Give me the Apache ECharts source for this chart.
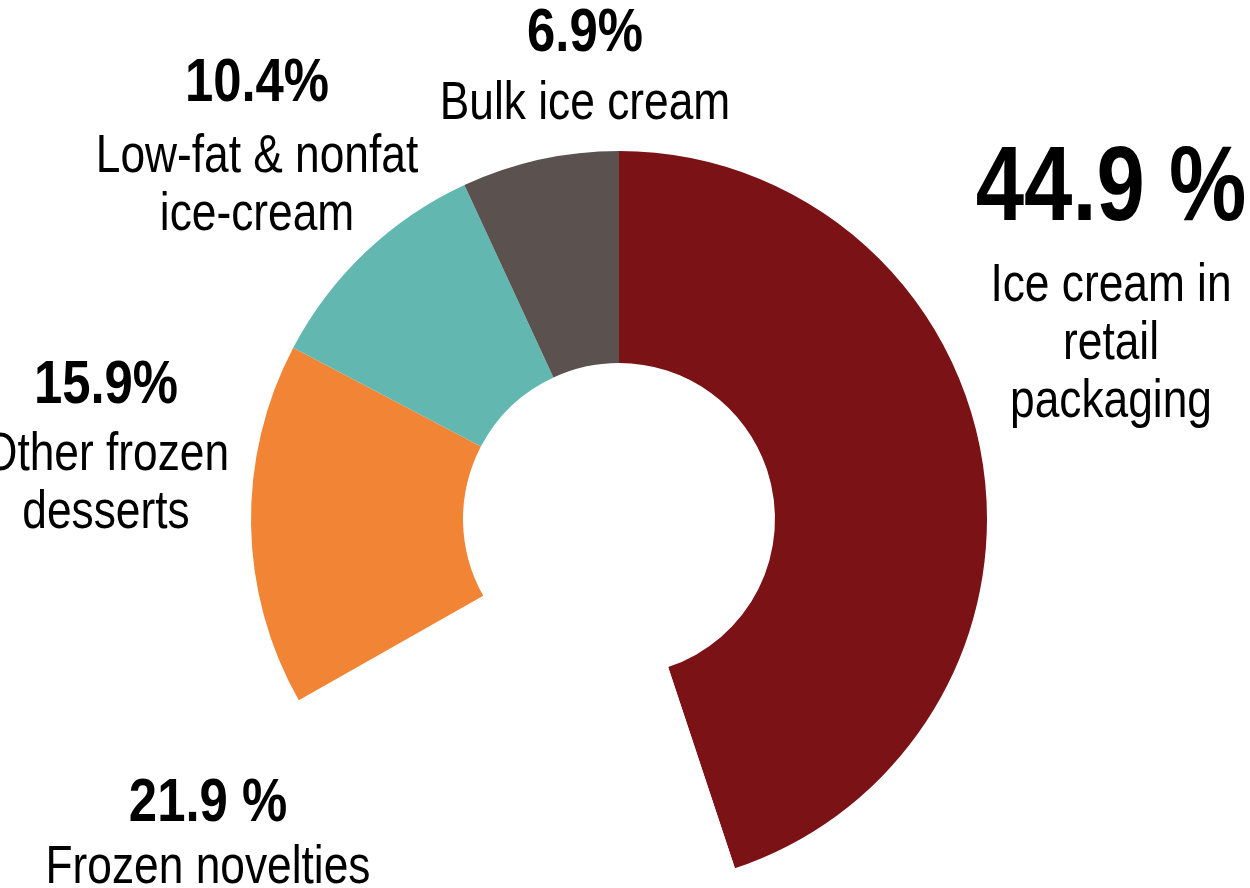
<!DOCTYPE html>
<html>
<head>
<meta charset="utf-8">
<script src="https://cdn.jsdelivr.net/npm/echarts@6/dist/echarts.min.js"></script>
<style>
html,body{margin:0;padding:0;background:#fff;}
#chart{width:1250px;height:888px;}
</style>
</head>
<body>
<div id="chart"></div>
<script>
// ---- data ----
const categories = ['Ice cream in retail packaging', 'Frozen novelties', 'Other frozen desserts', 'Low-fat & nonfat ice-cream', 'Bulk ice cream'];
const values = [44.9, 21.9, 15.9, 10.4, 6.9];
const percentLabels = ['44.9 %', '21.9 %', '15.9%', '10.4%', '6.9%'];
const nameLines = [
  ['Ice cream in', 'retail', 'packaging'],
  ['Frozen novelties'],
  ['Other frozen', 'desserts'],
  ['Low-fat & nonfat', 'ice-cream'],
  ['Bulk ice cream']
];
const colors = ['#7B1216', '#FFFFFF', '#F28535', '#62B8B0', '#5B5250'];

// ---- label layout (presentation) ----
const FONT = "'Liberation Sans', Arial, sans-serif";
const NARROW = 0.82; // emulate a condensed (Arial Narrow-like) face
const labelPos = [
  {x: 1111, y: 125, pL: 132, big: true},
  {x: 208, y: 769, pL: 70},
  {x: 106, y: 346, pL: 80},
  {x: 257, y: 40, pL: 88},
  {x: 585, y: -7, pL: 82}
];

const chart = echarts.init(document.getElementById('chart'), null, {renderer: 'canvas'});

const data = categories.map((c, i) => ({
  name: c,
  value: values[i],
  itemStyle: {color: colors[i]}
}));

const labelGraphics = categories.map((c, i) => {
  const lp = labelPos[i];
  const pStyle = {
    fontSize: lp.big ? 106 : 62, fontWeight: 'bold', lineHeight: lp.pL,
    fontFamily: FONT, fill: '#000', align: 'center'
  };
  return {
    type: 'text',
    x: lp.x,
    y: lp.y,
    scaleX: NARROW,
    silent: true,
    style: {
      text: '{p|' + percentLabels[i] + '}\n' + nameLines[i].map(l => '{n|' + l + '}').join('\n'),
      align: 'center',
      verticalAlign: 'top',
      rich: {
        p: pStyle,
        n: {fontSize: 54, lineHeight: 58, fontFamily: FONT, fill: '#000', align: 'center'}
      }
    }
  };
});

chart.setOption({
  backgroundColor: '#ffffff',
  animation: false,
  graphic: labelGraphics,
  series: [{
    type: 'pie',
    center: [619, 519],
    radius: [156, 368],
    startAngle: 90,
    clockwise: true,
    emphasis: {disabled: true},
    itemStyle: {borderWidth: 0},
    label: {show: false},
    labelLine: {show: false},
    data: data
  }]
});
</script>
</body>
</html>
